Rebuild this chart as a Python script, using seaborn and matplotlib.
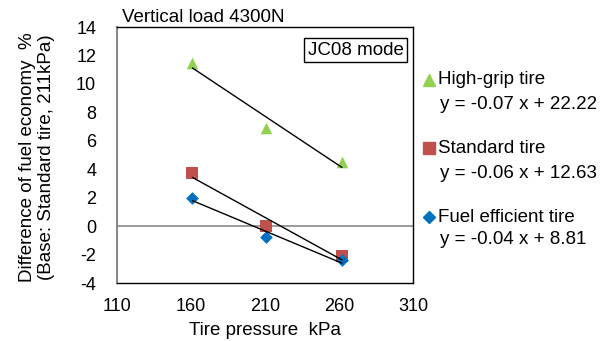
import numpy as np
import pandas as pd
import matplotlib
matplotlib.use("Agg")
import matplotlib.pyplot as plt
import seaborn as sns

pressure = [161, 211, 262]
high_grip = [11.5, 6.9, 4.5]
standard = [3.7, 0.0, -2.1]
fuel_eff = [2.0, -0.8, -2.4]
series_names = ["High-grip tire", "Standard tire", "Fuel efficient tire"]
equations = ["y = -0.07 x + 22.22", "y = -0.06 x + 12.63", "y = -0.04 x + 8.81"]
colors = ["#92D050", "#C0504D", "#0070C0"]
markers = ["^", "s", "D"]
msizes = [70, 75, 42]
xticks = [110, 160, 210, 260, 310]
yticks = [-4, -2, 0, 2, 4, 6, 8, 10, 12, 14]

sns.set_theme(style="white")
plt.rcParams['font.family'] = ['Liberation Sans', 'DejaVu Sans']
plt.rcParams['axes.unicode_minus'] = False
for k in ["text.color", "axes.labelcolor", "xtick.color", "ytick.color"]:
    plt.rcParams[k] = "black"
FS = 13.5
TFS = 13

df = pd.DataFrame({
    "x": pressure * 3,
    "y": high_grip + standard + fuel_eff,
    "tire": sum([[n] * 3 for n in series_names], []),
})

fig = plt.figure(figsize=(6.08, 3.41), dpi=100)
ax = fig.add_axes([117 / 608, 1 - 283 / 341, 296 / 608, 256 / 341])

ax.axhline(0, color="#888888", lw=1.2, zorder=1)

for name, c, m, s in zip(series_names, colors, markers, msizes):
    sub = df[df.tire == name]
    sns.scatterplot(data=sub, x="x", y="y", color=c, marker=m, s=s,
                    linewidth=0, ax=ax, zorder=3)
    sns.regplot(data=sub, x="x", y="y", scatter=False, ci=None, ax=ax,
                color="black", line_kws=dict(lw=1, zorder=4))

ax.set_xlim(110, 310)
ax.set_ylim(-4, 14)
ax.set_xticks(xticks)
ax.set_yticks(yticks)
ax.tick_params(axis="x", labelsize=TFS, length=0, pad=11)
ax.tick_params(axis="y", labelsize=TFS, length=0, pad=15)
ax.set_xlabel("Tire pressure  kPa", fontsize=FS)
ax.xaxis.set_label_coords(0.5, -0.152)
ax.set_ylabel("")
for sp in ["top", "right", "bottom"]:
    ax.spines[sp].set_color("black")
    ax.spines[sp].set_linewidth(1)
ax.spines["left"].set_color("#888888")
ax.spines["left"].set_linewidth(1.5)

fig.text(37 / 608, 1 - 157 / 341,
         "Difference of fuel economy  %\n(Base: Standard tire, 211kPa)",
         fontsize=FS, rotation=90, ha="center", va="center",
         multialignment="center", linespacing=1.15)

fig.text(122 / 608, 1 - 17 / 341, "Vertical load 4300N", fontsize=FS,
         va="center", ha="left")
ax.text(0.968, 0.943, "JC08 mode", transform=ax.transAxes, fontsize=FS,
        ha="right", va="top",
        bbox=dict(boxstyle="square,pad=0.2", fc="white", ec="black", lw=1))

leg_y = [80, 148, 217]
eq_y = [105, 173, 239]
msz = [8, 8, 6]
for name, eq, c, m, yy, ey, ms in zip(series_names, equations, colors, markers,
                                      leg_y, eq_y, msz):
    fig.lines.append(plt.Line2D([429 / 608], [1 - yy / 341], marker=m, color=c,
                                markersize=ms, linestyle="none",
                                transform=fig.transFigure))
    fig.text(438 / 608, 1 - yy / 341, name, fontsize=FS, va="center", ha="left")
    fig.text(440 / 608, 1 - ey / 341, eq, fontsize=FS, va="center", ha="left")

fig.savefig("out.png", dpi=100)
